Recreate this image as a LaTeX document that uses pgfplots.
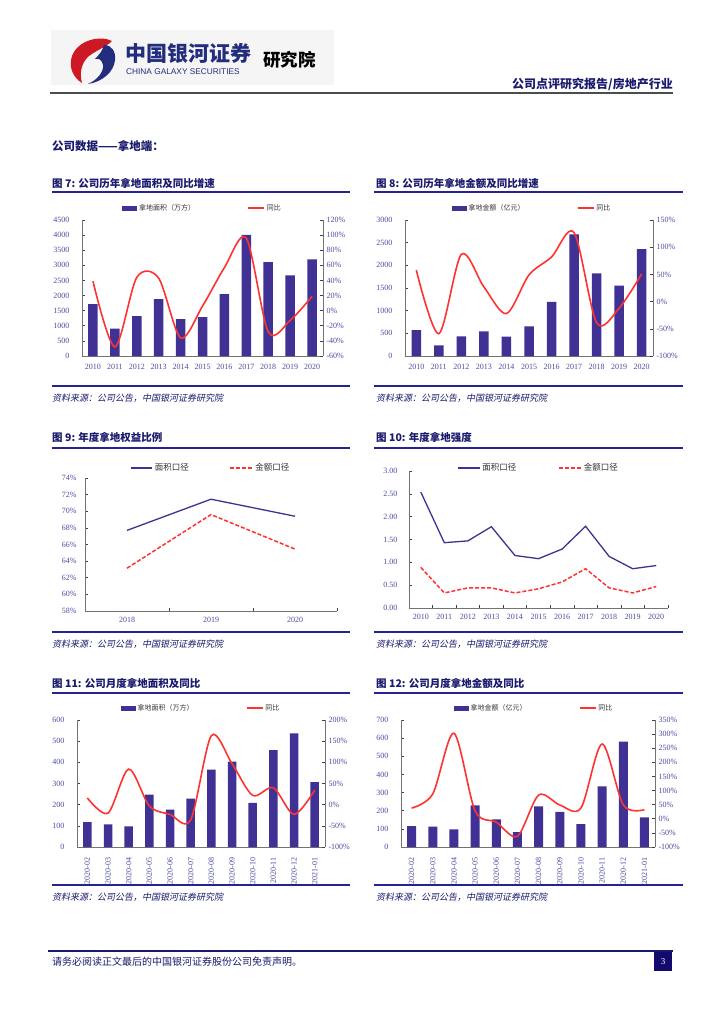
\documentclass[border=0pt]{standalone}
\usepackage{fontspec}
\setmainfont{Liberation Serif}
\newfontfamily\cjk{Noto Sans CJK SC}
\newfontfamily\cjksl[FakeSlant=0.2]{Noto Sans CJK SC}
\newfontfamily\arial{Liberation Sans}
\usepackage{pgfplots}
\pgfplotsset{compat=1.18}

\definecolor{barblue}{RGB}{64,50,148}
\definecolor{redline}{RGB}{255,50,50}
\definecolor{ticklab}{RGB}{75,75,165}
\definecolor{navy}{RGB}{25,25,110}
\definecolor{rule}{RGB}{35,35,150}
\definecolor{axgray}{RGB}{115,115,115}
\definecolor{logored}{RGB}{205,25,35}
\definecolor{logoblue}{RGB}{35,45,125}
\definecolor{pagebox}{RGB}{20,10,110}

\pgfplotsset{
  base/.style={scale only axis, anchor=south west,
    axis line style={axgray, line width=0.8pt},
    tick style={black!75, line width=0.6pt}, tick align=inside, major tick length=3pt,
    ticklabel style={font=\fontsize{8}{8}\selectfont, text=ticklab},
    /pgf/number format/assume math mode=true, /pgf/number format/1000 sep={}},
  leftax/.style={base, axis x line*=bottom, axis y line*=left,
    yticklabel style={xshift=-9pt}, xticklabel style={yshift=-5pt}},
  rightax/.style={base, axis x line=none, axis y line*=right},
  pct/.style={yticklabel={\pgfmathprintnumber{\tick}\%}},
  leg/.style={legend style={at={(0.5,1)}, anchor=center, yshift=#1, draw=none, fill=none,
    legend columns=-1, font=\cjk\fontsize{7}{7}\selectfont, text=black!80,
    /tikz/every even column/.append style={column sep=50pt}}},
  barimg/.style={legend image code/.code={\fill[barblue] (0pt,-2.5pt) rectangle (15pt,2.5pt);}},
  lineimg/.style={legend image code/.code={\draw[redline, line width=1.6pt] (0pt,0pt) -- (16pt,0pt);}},
  lineleg/.style={legend image code/.code={\draw[##1] (0pt,0pt) -- (#1,0pt);}},
}

\begin{document}
\begin{tikzpicture}
\useasboundingbox (0,0) rectangle (724pt,-1024pt);
\fill[white] (0,0) rectangle (724pt,-1024pt);

\begin{scope}[x=1pt,y=-1pt]
% header
\fill[black!4] (51,30) rectangle (334,85);
\fill[logored] (112,41) .. controls (100,35) and (78,40) .. (72,56) .. controls (68,68) and (74,78) .. (82,83)
  .. controls (79,72) and (82,62) .. (89,56) .. controls (97,50) and (106,47) .. (112,41) -- cycle;
\fill[logoblue] (104,45) .. controls (112,45) and (116,52) .. (115,60) .. controls (114,72) and (102,82) .. (88,84)
  .. controls (97,80) and (104,72) .. (103,65) .. controls (102,60) and (99,58) .. (95,59)
  .. controls (99,55) and (103,50) .. (104,45) -- cycle;
\node[anchor=west, inner sep=0, text=logoblue] at (125,53) {\cjk\bfseries\fontsize{21}{21}\selectfont 中国银河证券};
\node[anchor=west, inner sep=0, text=logoblue] at (126,72) {\arial\fontsize{8.3}{8.3}\selectfont CHINA GALAXY SECURITIES};
\node[anchor=west, inner sep=0] at (263,60) {\cjk\bfseries\fontsize{17.5}{17.5}\selectfont 研究院};
\node[anchor=east, inner sep=0, text=navy] at (673,84) {\cjk\bfseries\fontsize{12}{12}\selectfont 公司点评研究报告/房地产行业};
\draw[black!70, line width=1.6pt] (50,93) -- (673,93);
\node[anchor=west, inner sep=0, text=navy] at (52,146) {\cjk\bfseries\fontsize{11.5}{11.5}\selectfont 公司数据——拿地端：};

% titles and rules
\node[anchor=west, inner sep=0, text=navy] at (52,183) {\cjk\bfseries\fontsize{10.5}{10.5}\selectfont 图 7: 公司历年拿地面积及同比增速};
\node[anchor=west, inner sep=0, text=navy] at (376,183) {\cjk\bfseries\fontsize{10.5}{10.5}\selectfont 图 8: 公司历年拿地金额及同比增速};
\node[anchor=west, inner sep=0, text=navy] at (52,437) {\cjk\bfseries\fontsize{10.5}{10.5}\selectfont 图 9: 年度拿地权益比例};
\node[anchor=west, inner sep=0, text=navy] at (376,437) {\cjk\bfseries\fontsize{10.5}{10.5}\selectfont 图 10: 年度拿地强度};
\node[anchor=west, inner sep=0, text=navy] at (52,683) {\cjk\bfseries\fontsize{10.5}{10.5}\selectfont 图 11: 公司月度拿地面积及同比};
\node[anchor=west, inner sep=0, text=navy] at (376,683) {\cjk\bfseries\fontsize{10.5}{10.5}\selectfont 图 12: 公司月度拿地金额及同比};
\foreach \y in {192,448,693} {
  \draw[rule, line width=1.6pt] (52,\y) -- (350,\y);
  \draw[rule, line width=1.6pt] (374,\y) -- (683,\y);
}
\foreach \y in {386,632,885} {
  \draw[rule, line width=1.2pt] (52,\y) -- (350,\y);
  \draw[rule, line width=1.2pt] (374,\y) -- (683,\y);
  \node[anchor=west, inner sep=0, text=navy] at (52,\y+12) {\cjksl\fontsize{9}{9}\selectfont 资料来源：公司公告，中国银河证券研究院};
  \node[anchor=west, inner sep=0, text=navy] at (376,\y+12) {\cjksl\fontsize{9}{9}\selectfont 资料来源：公司公告，中国银河证券研究院};
}

% footer
\draw[navy, line width=1.5pt] (48,951) -- (673,951);
\node[anchor=west, inner sep=0, text=navy] at (52,962) {\cjk\fontsize{10}{10}\selectfont 请务必阅读正文最后的中国银河证券股份公司免责声明。};
\fill[pagebox] (654,952) rectangle (672,971);
\node[text=white, inner sep=0] at (663,961.5) {\fontsize{9}{9}\selectfont 3};
\end{scope}

% ---------- Fig 7 ----------
\begin{axis}[leftax, at={(82pt,-356pt)}, width=241pt, height=136pt,
  xmin=-0.5, xmax=10.5, ymin=0, ymax=4500, ytick distance=500,
  xtick={0,...,10}, xticklabels={2010,2011,2012,2013,2014,2015,2016,2017,2018,2019,2020},
  xtick style={draw=none}, leg=12pt]
\addplot[ybar, bar width=9.5pt, fill=barblue, draw=none, barimg] coordinates {
  (0,1715) (1,910) (2,1320) (3,1885) (4,1220) (5,1290) (6,2050) (7,4005) (8,3105) (9,2665) (10,3195)};
\addlegendentry{拿地面积（万方）}
\addlegendimage{lineimg}
\addlegendentry{同比}
\end{axis}
\begin{axis}[rightax, pct, at={(82pt,-356pt)}, width=241pt, height=136pt,
  xmin=-0.5, xmax=10.5, ymin=-60, ymax=120, ytick distance=20]
\addplot[redline, line width=1.6pt, smooth, no marks] coordinates {
  (0,39) (1,-48) (2,44) (3,43) (4,-36) (5,6) (6,57) (7,96) (8,-28) (9,-13) (10,19)};
\end{axis}

% ---------- Fig 8 ----------
\begin{axis}[leftax, at={(405pt,-356pt)}, width=248pt, height=136pt,
  xmin=-0.5, xmax=10.5, ymin=0, ymax=3000, ytick distance=500,
  xtick={0,...,10}, xticklabels={2010,2011,2012,2013,2014,2015,2016,2017,2018,2019,2020},
  xtick style={draw=none}, leg=12pt, legend style={xshift=3pt}]
\addplot[ybar, bar width=9.5pt, fill=barblue, draw=none, barimg] coordinates {
  (0,572) (1,235) (2,432) (3,541) (4,425) (5,652) (6,1193) (7,2685) (8,1822) (9,1551) (10,2356)};
\addlegendentry{拿地金额（亿元）}
\addlegendimage{lineimg}
\addlegendentry{同比}
\end{axis}
\begin{axis}[rightax, pct, at={(405pt,-356pt)}, width=248pt, height=136pt,
  xmin=-0.5, xmax=10.5, ymin=-100, ymax=150, ytick distance=50]
\addplot[redline, line width=1.6pt, smooth, no marks] coordinates {
  (0,58) (1,-59) (2,87) (3,27) (4,-22) (5,49) (6,82) (7,127) (8,-39) (9,-12) (10,51)};
\end{axis}

% ---------- Fig 9 ----------
\begin{axis}[leftax, pct, at={(85pt,-611pt)}, width=252pt, height=133pt,
  xmin=-0.5, xmax=2.5, ymin=58, ymax=74, ytick distance=2,
  yticklabel style={xshift=4pt}, xticklabel style={yshift=2pt},
  xtick={0.5,1.5,2.5}, xticklabels={}, extra x ticks={0,1,2},
  extra x tick labels={2018,2019,2020}, extra x tick style={major tick length=0pt},
  leg=10pt, legend style={font=\cjk\fontsize{8.5}{8.5}\selectfont, /tikz/every even column/.append style={column sep=38pt}}]
\addplot[barblue, line width=1.3pt, lineleg=21pt]
  coordinates {(0,67.7) (1,71.45) (2,69.4)};
\addlegendentry{面积口径}
\addplot[redline, line width=1.5pt, dash pattern=on 4pt off 2pt, lineleg=23pt]
  coordinates {(0,63.15) (1,69.6) (2,65.45)};
\addlegendentry{金额口径}
\end{axis}

% ---------- Fig 10 ----------
\begin{axis}[leftax, at={(409pt,-608pt)}, width=259pt, height=137pt,
  xmin=-0.5, xmax=10.5, ymin=0, ymax=3, ytick distance=0.5,
  yticklabel style={xshift=1pt, /pgf/number format/.cd, fixed, fixed zerofill, precision=2},
  xticklabel style={yshift=2pt},
  xtick={0.5,1.5,...,10.5}, xticklabels={}, extra x ticks={0,...,10},
  extra x tick labels={2010,2011,2012,2013,2014,2015,2016,2017,2018,2019,2020},
  extra x tick style={major tick length=0pt},
  leg=3pt, legend style={font=\cjk\fontsize{8.5}{8.5}\selectfont, /tikz/every even column/.append style={column sep=40pt}}]
\addplot[barblue, line width=1.3pt, lineleg=22pt]
  coordinates {(0,2.54) (1,1.43) (2,1.47) (3,1.78) (4,1.15) (5,1.08) (6,1.29) (7,1.79) (8,1.13) (9,0.86) (10,0.93)};
\addlegendentry{面积口径}
\addplot[redline, line width=1.5pt, dash pattern=on 4pt off 2pt, lineleg=22pt]
  coordinates {(0,0.89) (1,0.33) (2,0.44) (3,0.44) (4,0.33) (5,0.42) (6,0.57) (7,0.86) (8,0.44) (9,0.33) (10,0.47)};
\addlegendentry{金额口径}
\end{axis}

% ---------- Fig 11 ----------
\begin{axis}[leftax, at={(77pt,-847pt)}, width=248pt, height=127pt,
  xmin=-0.5, xmax=11.5, ymin=0, ymax=600, ytick distance=100,
  xtick={0,...,11}, xticklabels={2020-02,2020-03,2020-04,2020-05,2020-06,2020-07,2020-08,2020-09,2020-10,2020-11,2020-12,2021-01},
  xticklabel style={rotate=90, anchor=east, yshift=0pt, xshift=-2pt},
  xtick style={draw=none}, leg=12pt]
\addplot[ybar, bar width=8.5pt, fill=barblue, draw=none, barimg] coordinates {
  (0,118) (1,107) (2,98) (3,248) (4,177) (5,229) (6,366) (7,403) (8,208) (9,458) (10,537) (11,306)};
\addlegendentry{拿地面积（万方）}
\addlegendimage{lineimg}
\addlegendentry{同比}
\end{axis}
\begin{axis}[rightax, pct, at={(77pt,-847pt)}, width=248pt, height=127pt,
  xmin=-0.5, xmax=11.5, ymin=-100, ymax=200, ytick distance=50]
\addplot[redline, line width=1.6pt, smooth, no marks] coordinates {
  (0,16) (1,-20) (2,84) (3,-3) (4,-23) (5,-36) (6,163) (7,97) (8,22) (9,40) (10,-23) (11,34)};
\end{axis}

% ---------- Fig 12 ----------
\begin{axis}[leftax, at={(401pt,-847pt)}, width=254pt, height=127pt,
  xmin=-0.5, xmax=11.5, ymin=0, ymax=700, ytick distance=100,
  xtick={0,...,11}, xticklabels={2020-02,2020-03,2020-04,2020-05,2020-06,2020-07,2020-08,2020-09,2020-10,2020-11,2020-12,2021-01},
  xticklabel style={rotate=90, anchor=east, yshift=0pt, xshift=-2pt},
  xtick style={draw=none}, leg=12pt, legend style={xshift=6pt}]
\addplot[ybar, bar width=9pt, fill=barblue, draw=none, barimg] coordinates {
  (0,115) (1,112) (2,97) (3,229) (4,152) (5,82) (6,224) (7,194) (8,126) (9,334) (10,581) (11,163)};
\addlegendentry{拿地金额（亿元）}
\addlegendimage{lineimg}
\addlegendentry{同比}
\end{axis}
\begin{axis}[rightax, pct, at={(401pt,-847pt)}, width=254pt, height=127pt,
  xmin=-0.5, xmax=11.5, ymin=-100, ymax=350, ytick distance=50]
\addplot[redline, line width=1.6pt, smooth, no marks] coordinates {
  (0,38) (1,88) (2,303) (3,28) (4,-12) (5,-62) (6,84) (7,49) (8,38) (9,265) (10,49) (11,32)};
\end{axis}
\end{tikzpicture}
\end{document}
